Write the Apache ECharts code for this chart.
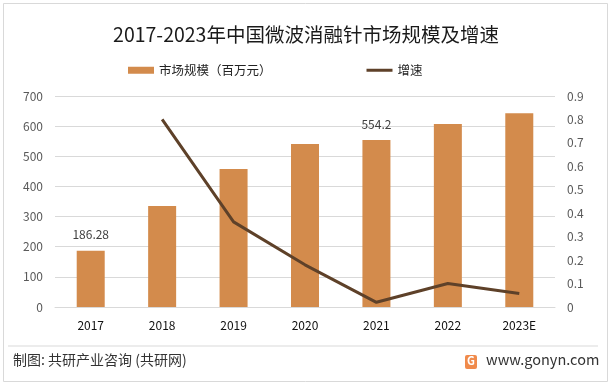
<!DOCTYPE html>
<html><head><meta charset="utf-8">
<script src="https://cdn.jsdelivr.net/npm/echarts@6/dist/echarts.min.js"></script>
<style>html,body{margin:0;padding:0;background:#fff}#c{width:612px;height:386px}</style>
</head><body><div id="c"></div>
<script>
const categories = ['2017','2018','2019','2020','2021','2022','2023E'];
const marketSize = [186.28, 335, 458, 541, 554.2, 607, 643];
const growthRate = [null, 0.80, 0.363, 0.18, 0.02, 0.10, 0.058];
const leftTicks = [0,100,200,300,400,500,600,700];
const rightTicks = [0,0.1,0.2,0.3,0.4,0.5,0.6,0.7,0.8,0.9];
const labelShown = {0: true, 4: true};

const font = '"Microsoft YaHei","Noto Sans CJK SC",sans-serif';
const chart = echarts.init(document.getElementById('c'), null, {renderer:'canvas'});
chart.setOption({
  animation:false,
  backgroundColor:'#fff',
  title:{text:'2017-2023年中国微波消融针市场规模及增速', left:'center', top:20,
    textStyle:{fontFamily:font, fontSize:19.5, fontWeight:'normal', color:'#1a1a1a'}},
  legend:{top:59, left:123, itemGap:95, itemWidth:26, itemHeight:7, itemTextGap:2,
    textStyle:{fontFamily:font, fontSize:12.5, color:'#222'},
    data:[{name:'市场规模（百万元）', icon:'rect'},{name:'增速', icon:'path://M0,0H26V3H0Z'}]},
  grid:{left:55, right:57, top:96, bottom:79, containLabel:false},
  xAxis:{type:'category', data:categories, axisTick:{show:false},
    axisLine:{lineStyle:{color:'#d9d9d9'}},
    axisLabel:{color:'#111', fontFamily:font, fontSize:12, margin:12}},
  yAxis:[
    {type:'value', min:leftTicks[0], max:leftTicks[leftTicks.length-1], interval:100,
     axisLabel:{color:'#595959', fontFamily:font, fontSize:12, margin:12},
     splitLine:{lineStyle:{color:'#d9d9d9'}}, axisLine:{show:false}},
    {type:'value', min:rightTicks[0], max:rightTicks[rightTicks.length-1], interval:0.1,
     axisLabel:{color:'#595959', fontFamily:font, fontSize:12, margin:12,
       formatter:v=>String(Math.round(v*10)/10)},
     splitLine:{show:false}, axisLine:{show:false}}
  ],
  series:[
    {name:'市场规模（百万元）', type:'bar', data:marketSize, barWidth:28,
     itemStyle:{color:'#D38B4C'},
     label:{show:true, position:'top', distance:10, color:'#404040', fontFamily:font, fontSize:12,
       formatter:p=>labelShown[p.dataIndex]?String(p.value):''}},
    {name:'增速', type:'line', yAxisIndex:1, data:growthRate, symbol:'none',
     lineStyle:{color:'#5E4129', width:3}, itemStyle:{color:'#5E4129'}}
  ],
  graphic:[
    {type:'rect', shape:{x:3.5,y:3.5,width:604,height:378}, style:{fill:null, stroke:'#d9d9d9', lineWidth:1}, silent:true},
    {type:'line', shape:{x1:8,y1:346,x2:598,y2:346}, style:{stroke:'#d9d9d9', lineWidth:1}},
    {type:'text', left:13, top:353, style:{text:'制图: 共研产业咨询 (共研网)', fontFamily:font, fontSize:14, fill:'#333'}},
    {type:'rect', shape:{x:465,y:355,width:12,height:14,r:2}, style:{fill:'#F08A4B'}},
    {type:'text', left:467, top:355, style:{text:'G', fontFamily:font, fontSize:11, fontWeight:'bold', fill:'#fff'}},
    {type:'text', left:486, top:352, style:{text:'www.gonyn.com', fontFamily:font, fontSize:14.5, fill:'#333'}}
  ]
});
</script></body></html>
